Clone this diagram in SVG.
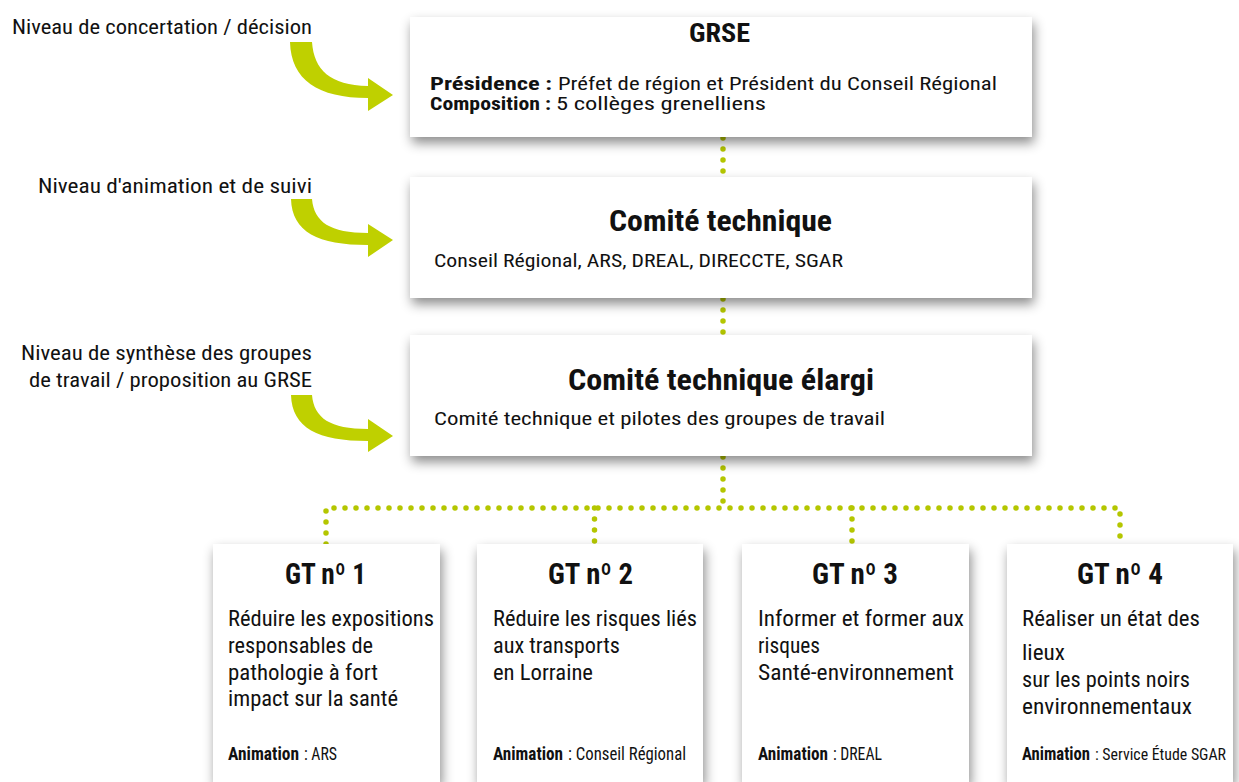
<svg xmlns="http://www.w3.org/2000/svg" width="1239" height="782" viewBox="0 0 1239 782">
<style>
text{font-family:"Liberation Sans Narrow","Roboto Condensed","DejaVu Sans Condensed","Liberation Sans",sans-serif;fill:#111;}
.b{font-weight:bold;}
.lbl{font-size:21px;}
.t1{font-size:25px;font-weight:bold;}
.t2{font-size:30px;font-weight:bold;}
.sub{font-size:19px;}
.sub2{font-size:17.5px;}
.gt{font-size:29px;font-weight:bold;}
.body{font-size:22.5px;}
.anim{font-size:18px;}
.anim2{font-size:16px;}
.box{fill:#fff;filter:url(#sh);}
.dots{fill:none;stroke:#b4c600;stroke-width:5.5;stroke-linecap:round;stroke-dasharray:0 11;}
.arrow{fill:#bfd000;}
</style>
<defs>
<filter id="sh" x="-10%" y="-20%" width="120%" height="150%">
<feDropShadow dx="2" dy="6" stdDeviation="6" flood-color="#000" flood-opacity="0.45"/>
</filter>
</defs>
<rect width="1239" height="782" fill="#fff"/>

<g id="connectors">
<path class="dots" d="M723,138 L723,176"/>
<path class="dots" d="M723,299 L723,335"/>
<path class="dots" d="M723,457 L723,508"/>
<path class="dots" d="M326,544 L326,508 L1120,508 L1120,544"/>
<path class="dots" d="M594.5,508 L594.5,544"/>
<path class="dots" d="M852,508 L852,544"/>
</g>

<g id="label1">
<text class="lbl" x="312" y="34" text-anchor="end" textLength="300" lengthAdjust="spacingAndGlyphs">Niveau de concertation / décision</text>
<path class="arrow" d="M290,42 L312,42 C314,70 330,85 368,86 L368,78 L393,95 L368,111 L368,98 C318,98 291,80 290,42 Z"/>
</g>
<g id="label2">
<text class="lbl" x="312" y="193" text-anchor="end" textLength="274" lengthAdjust="spacingAndGlyphs">Niveau d'animation et de suivi</text>
<path class="arrow" d="M291,199 L312,199 C314,222 330,233 368,233 L368,224 L393,240 L368,257 L368,245 C318,245 292,232 291,199 Z"/>
</g>
<g id="label3">
<text class="lbl" x="312" y="360" text-anchor="end" textLength="291" lengthAdjust="spacingAndGlyphs">Niveau de synthèse des groupes</text>
<text class="lbl" x="312" y="387" text-anchor="end" textLength="283" lengthAdjust="spacingAndGlyphs">de travail / proposition au GRSE</text>
<path class="arrow" d="M291,395 L312,395 C314,418 330,429 368,429 L368,419 L393,436 L368,452 L368,441 C318,441 292,428 291,395 Z"/>
</g>

<g id="grse">
<rect class="box" x="410" y="17" width="622" height="120"/>
<text class="t1" x="719.5" y="42" text-anchor="middle" textLength="61" lengthAdjust="spacingAndGlyphs">GRSE</text>
<text class="sub2 b" x="430" y="90" textLength="122" lengthAdjust="spacingAndGlyphs">Présidence :</text>
<text class="sub2" x="558" y="90" textLength="439" lengthAdjust="spacingAndGlyphs">Préfet de région et Président du Conseil Régional</text>
<text class="sub2 b" x="430" y="110" textLength="121" lengthAdjust="spacingAndGlyphs">Composition :</text>
<text class="sub2" x="556" y="110" textLength="210" lengthAdjust="spacingAndGlyphs">5 collèges grenelliens</text>
</g>

<g id="comite">
<rect class="box" x="410" y="177" width="622" height="121"/>
<text class="t2" x="720.5" y="231" text-anchor="middle" textLength="223" lengthAdjust="spacingAndGlyphs">Comité technique</text>
<text class="sub" x="434" y="267" textLength="409" lengthAdjust="spacingAndGlyphs">Conseil Régional, ARS, DREAL, DIRECCTE, SGAR</text>
</g>

<g id="comite-elargi">
<rect class="box" x="410" y="335" width="622" height="121"/>
<text class="t2" x="721" y="390" text-anchor="middle" textLength="306" lengthAdjust="spacingAndGlyphs">Comité technique élargi</text>
<text class="sub" x="434" y="425" textLength="451" lengthAdjust="spacingAndGlyphs">Comité technique et pilotes des groupes de travail</text>
</g>

<g id="gt1">
<rect class="box" x="213" y="544" width="227" height="238"/>
<text class="gt" x="325.5" y="584" text-anchor="middle" textLength="81" lengthAdjust="spacingAndGlyphs">GT nº 1</text>
<text class="body" x="228" y="626" textLength="206" lengthAdjust="spacingAndGlyphs">Réduire les expositions</text>
<text class="body" x="228" y="653" textLength="145" lengthAdjust="spacingAndGlyphs">responsables de</text>
<text class="body" x="228" y="680" textLength="150" lengthAdjust="spacingAndGlyphs">pathologie à fort</text>
<text class="body" x="228" y="706" textLength="170" lengthAdjust="spacingAndGlyphs">impact sur la santé</text>
<text class="anim b" x="228" y="760" textLength="71" lengthAdjust="spacingAndGlyphs">Animation</text>
<text class="anim" x="304" y="760" textLength="33" lengthAdjust="spacingAndGlyphs">: ARS</text>
</g>

<g id="gt2">
<rect class="box" x="477" y="544" width="226" height="238"/>
<text class="gt" x="590.5" y="584" text-anchor="middle" textLength="85" lengthAdjust="spacingAndGlyphs">GT nº 2</text>
<text class="body" x="493" y="626" textLength="204" lengthAdjust="spacingAndGlyphs">Réduire les risques liés</text>
<text class="body" x="493" y="653" textLength="127" lengthAdjust="spacingAndGlyphs">aux transports</text>
<text class="body" x="493" y="680" textLength="100" lengthAdjust="spacingAndGlyphs">en Lorraine</text>
<text class="anim b" x="493" y="760" textLength="70" lengthAdjust="spacingAndGlyphs">Animation</text>
<text class="anim" x="568" y="760" textLength="118" lengthAdjust="spacingAndGlyphs">: Conseil Régional</text>
</g>

<g id="gt3">
<rect class="box" x="742" y="544" width="227" height="238"/>
<text class="gt" x="855" y="584" text-anchor="middle" textLength="86" lengthAdjust="spacingAndGlyphs">GT nº 3</text>
<text class="body" x="758" y="626" textLength="206" lengthAdjust="spacingAndGlyphs">Informer et former aux</text>
<text class="body" x="758" y="653" textLength="62" lengthAdjust="spacingAndGlyphs">risques</text>
<text class="body" x="758" y="680" textLength="196" lengthAdjust="spacingAndGlyphs">Santé-environnement</text>
<text class="anim b" x="758" y="760" textLength="70" lengthAdjust="spacingAndGlyphs">Animation</text>
<text class="anim" x="833" y="760" textLength="49" lengthAdjust="spacingAndGlyphs">: DREAL</text>
</g>

<g id="gt4">
<rect class="box" x="1007" y="544" width="226" height="238"/>
<text class="gt" x="1120" y="584" text-anchor="middle" textLength="86" lengthAdjust="spacingAndGlyphs">GT nº 4</text>
<text class="body" x="1022" y="626" textLength="178" lengthAdjust="spacingAndGlyphs">Réaliser un état des</text>
<text class="body" x="1022" y="660" textLength="43" lengthAdjust="spacingAndGlyphs">lieux</text>
<text class="body" x="1022" y="687" textLength="168" lengthAdjust="spacingAndGlyphs">sur les points noirs</text>
<text class="body" x="1022" y="714" textLength="170" lengthAdjust="spacingAndGlyphs">environnementaux</text>
<text class="anim b" x="1022" y="760" textLength="68" lengthAdjust="spacingAndGlyphs">Animation</text>
<text class="anim2" x="1095" y="760" textLength="131" lengthAdjust="spacingAndGlyphs">: Service Étude SGAR</text>
</g>
</svg>
